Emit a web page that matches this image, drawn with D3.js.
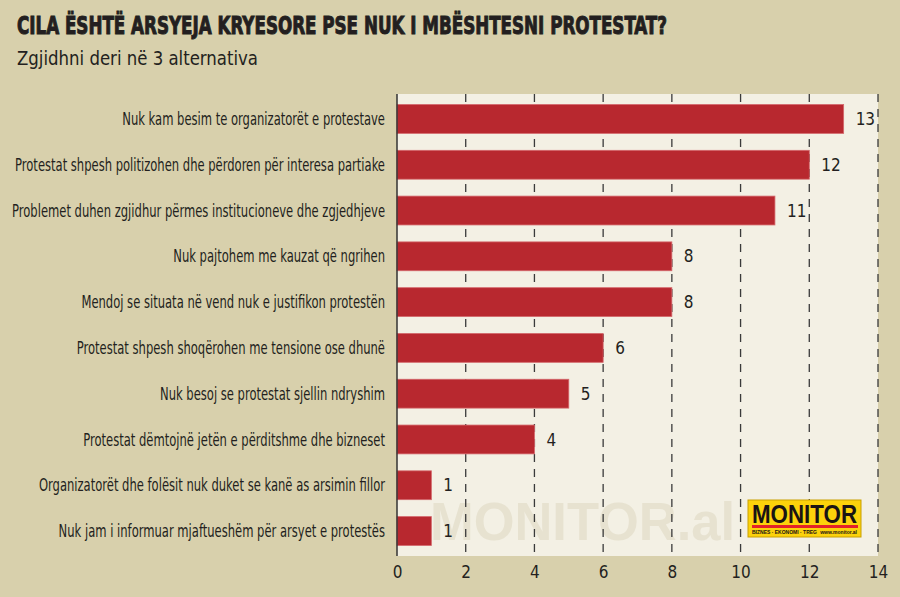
<!DOCTYPE html>
<html>
<head>
<meta charset="utf-8">
<script src="https://cdn.jsdelivr.net/npm/d3@7"></script>
<style>
  body { margin: 0; background: #d8d0ac; }
  svg { display: block; }
  text { font-family: "DejaVu Sans Condensed", "DejaVu Sans", sans-serif; font-stretch: condensed; fill: #231f20; }
</style>
</head>
<body>
<div id="chart"></div>
<script>
// data
let categories = [
    "Nuk kam besim te organizatorët e protestave",
    "Protestat shpesh politizohen dhe përdoren për interesa partiake",
    "Problemet duhen zgjidhur përmes institucioneve dhe zgjedhjeve",
    "Nuk pajtohem me kauzat që ngrihen",
    "Mendoj se situata në vend nuk e justifikon protestën",
    "Protestat shpesh shoqërohen me tensione ose dhunë",
    "Nuk besoj se protestat sjellin ndryshim",
    "Protestat dëmtojnë jetën e përditshme dhe bizneset",
    "Organizatorët dhe folësit nuk duket se kanë as arsimin fillor",
    "Nuk jam i informuar mjaftueshëm për arsyet e protestës"
];
let values = [13, 12, 11, 8, 8, 6, 5, 4, 1, 1];
let xTicks = [0, 2, 4, 6, 8, 10, 12, 14];

let title = "CILA ËSHTË ARSYEJA KRYESORE PSE NUK I MBËSHTESNI PROTESTAT?";
let subtitle = "Zgjidhni deri në 3 alternativa";

let width = 900, height = 597;
let margin = {top: 94, right: 22, bottom: 41, left: 397};

let svg = d3.select("#chart").append("svg")
    .attr("width", width)
    .attr("height", height);

svg.append("rect")
    .attr("width", width)
    .attr("height", height)
    .attr("fill", "#d8d0ac");

// titles
svg.append("text")
    .attr("x", 17)
    .attr("y", 34)
    .attr("textLength", 650)
    .attr("lengthAdjust", "spacingAndGlyphs")
    .style("font-size", "25px")
    .style("font-weight", "bold")
    .style("stroke", "#231f20")
    .style("stroke-width", 1)
    .text(title);

svg.append("text")
    .attr("x", 17)
    .attr("y", 65)
    .attr("textLength", 241)
    .attr("lengthAdjust", "spacingAndGlyphs")
    .style("font-size", "20px")
    .text(subtitle);

let x = d3.scaleLinear()
    .domain([0, 14])
    .range([margin.left, width - margin.right]);

let y = d3.scaleBand()
    .domain(categories)
    .range([margin.top, height - margin.bottom])
    .paddingInner(0.37)
    .paddingOuter(0.23);

// plot background
svg.append("rect")
    .attr("x", x(0))
    .attr("y", margin.top)
    .attr("width", x(14) - x(0))
    .attr("height", height - margin.bottom - margin.top)
    .attr("fill", "#f3f0e4");

// watermark
svg.append("text")
    .attr("x", 430)
    .attr("y", 540)
    .attr("textLength", 305)
    .attr("lengthAdjust", "spacingAndGlyphs")
    .style("font-family", "'Liberation Sans', Arial, sans-serif")
    .style("font-stretch", "normal")
    .style("font-weight", "bold")
    .style("font-size", "54px")
    .style("fill", "#e7e2d0")
    .text("MONITOR.al");

// dashed grid
svg.append("g")
    .selectAll("line")
    .data(xTicks.filter(d => d > 0))
    .join("line")
    .attr("x1", d => x(d))
    .attr("x2", d => x(d))
    .attr("y1", margin.top)
    .attr("y2", height - margin.bottom)
    .attr("stroke", "#3a3a3a")
    .attr("stroke-width", 1.3)
    .attr("stroke-dasharray", "8,7");

// bars
svg.append("g")
    .selectAll("rect")
    .data(values)
    .join("rect")
    .attr("x", x(0))
    .attr("y", (d, i) => y(categories[i]))
    .attr("width", d => x(d) - x(0))
    .attr("height", y.bandwidth())
    .attr("fill", "#b8282f")
    .attr("stroke", "#d4676b")
    .attr("stroke-width", 0.8);

// value labels
svg.append("g")
    .selectAll("text")
    .data(values)
    .join("text")
    .attr("x", d => x(d) + 12)
    .attr("y", (d, i) => y(categories[i]) + y.bandwidth() / 2)
    .attr("dy", "0.36em")
    .style("font-size", "17px")
    .text(d => d);

// category labels, squeezed to the narrow face of the original
let catLabels = svg.append("g")
    .selectAll("text")
    .data(categories)
    .join("text")
    .attr("x", 385)
    .attr("y", d => y(d) + y.bandwidth() / 2)
    .attr("dy", "0.36em")
    .attr("text-anchor", "end")
    .style("font-size", "17px")
    .text(d => d);

// "Nuk besoj se protestat sjellin ndryshim" is about 225px wide in the original
let refLen = catLabels.filter((d, i) => i === 6).node().getComputedTextLength();
let squeeze = Math.min(1, 225 / refLen);
catLabels.each(function() {
    let len = this.getComputedTextLength();
    d3.select(this)
        .attr("textLength", len * squeeze)
        .attr("lengthAdjust", "spacingAndGlyphs");
});

// zero axis
svg.append("line")
    .attr("x1", x(0))
    .attr("x2", x(0))
    .attr("y1", margin.top)
    .attr("y2", height - margin.bottom)
    .attr("stroke", "#333")
    .attr("stroke-width", 1.5);

// x axis
let xAxis = d3.axisBottom(x)
    .tickValues(xTicks)
    .tickSize(0)
    .tickPadding(10)
    .tickFormat(d => d);

let gx = svg.append("g")
    .attr("transform", "translate(0," + (height - margin.bottom) + ")")
    .call(xAxis);
gx.select(".domain").remove();
gx.selectAll("text")
    .style("font-family", "'DejaVu Sans Condensed', 'DejaVu Sans', sans-serif")
    .style("font-stretch", "condensed")
    .style("font-size", "17px")
    .style("fill", "#231f20");

// logo
let logo = svg.append("g").attr("transform", "translate(748,500)");
logo.append("rect")
    .attr("width", 113)
    .attr("height", 37)
    .attr("fill", "#fcd20b")
    .attr("stroke", "#c9a000")
    .attr("stroke-width", 1);
logo.append("text")
    .attr("x", 4)
    .attr("y", 23)
    .attr("textLength", 105)
    .attr("lengthAdjust", "spacingAndGlyphs")
    .style("font-family", "'Liberation Sans', Arial, sans-serif")
    .style("font-stretch", "normal")
    .style("font-weight", "bold")
    .style("font-size", "25px")
    .style("fill", "#1a1414")
    .text("MONITOR");
logo.append("rect")
    .attr("x", 4)
    .attr("y", 25)
    .attr("width", 106)
    .attr("height", 3)
    .attr("fill", "#e52229");
logo.append("text")
    .attr("x", 4)
    .attr("y", 34)
    .style("font-family", "'Liberation Sans', Arial, sans-serif")
    .style("font-size", "5px")
    .style("font-weight", "bold")
    .style("fill", "#1a1414")
    .text("BIZNES  ·  EKONOMI  ·  TREG");
logo.append("text")
    .attr("x", 109)
    .attr("y", 34)
    .attr("text-anchor", "end")
    .style("font-family", "'Liberation Sans', Arial, sans-serif")
    .style("font-size", "5px")
    .style("font-weight", "bold")
    .style("fill", "#1a1414")
    .text("www.monitor.al");
</script>
</body>
</html>
